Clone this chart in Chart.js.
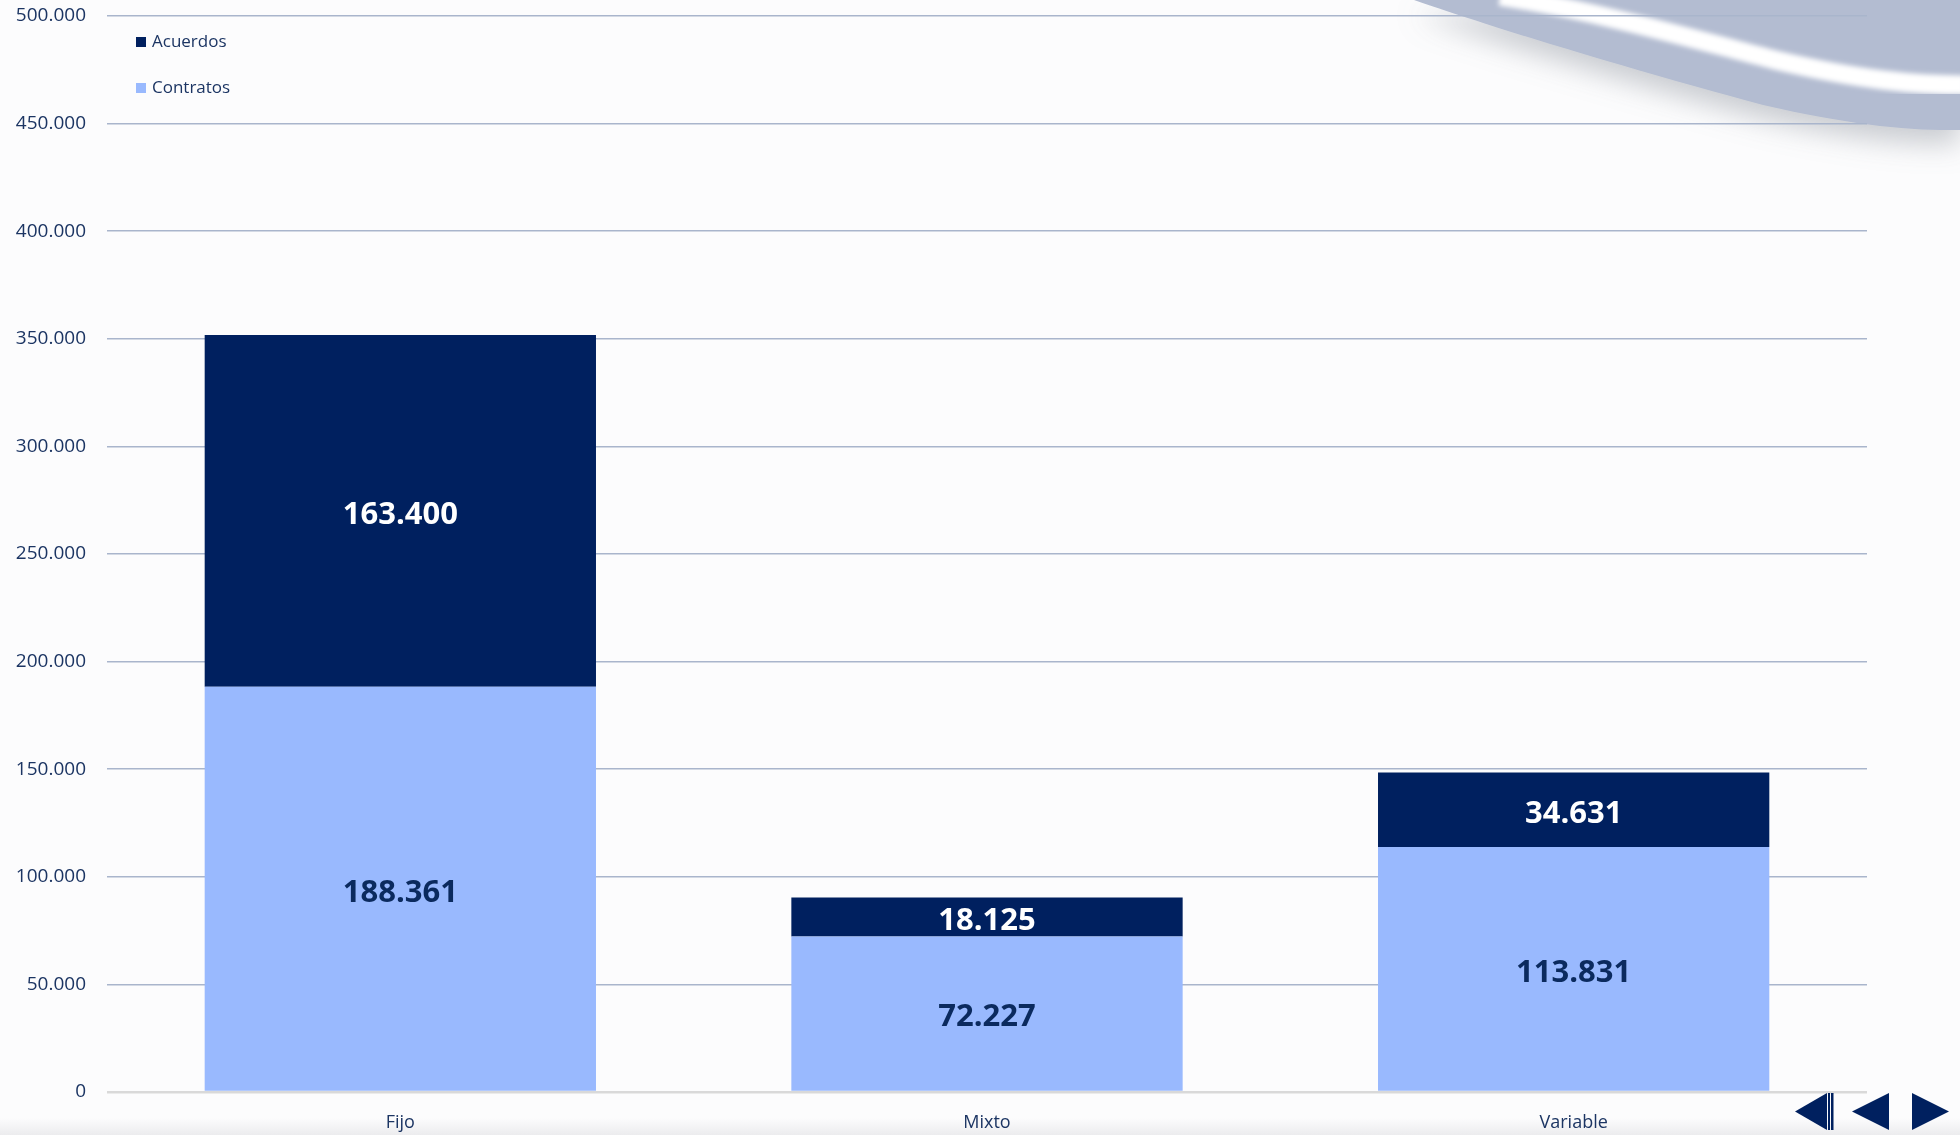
<!DOCTYPE html>
<html>
<head>
<meta charset="utf-8">
<script src="https://cdn.jsdelivr.net/npm/chart.js@4"></script>
<style>
  html, body { margin: 0; padding: 0; background: #fcfcfd; }
  #wrap { position: relative; width: 1960px; height: 1135px; overflow: hidden;
    background: linear-gradient(to bottom, #fcfcfd 0, #fcfcfd 1118px, #ececee 1135px); }
  #deco, #nav { position: absolute; left: 0; top: 0; }
  #chart { position: absolute; left: 0; top: 0; }
</style>
</head>
<body>
<div id="wrap">
  <svg id="deco" width="1960" height="1135">
    <defs>
      <filter id="shade" x="-20%" y="-50%" width="140%" height="250%">
        <feDropShadow dx="0" dy="14" stdDeviation="14" flood-color="#8a8f99" flood-opacity="0.45"/>
      </filter>
      <filter id="soft"><feGaussianBlur stdDeviation="2.5"/></filter>
    </defs>
    <path d="M1414,0 C1500,30 1650,75 1763,105 C1850,125 1910,131 1960,130 L1960,0 Z" fill="#b3bcd1" filter="url(#shade)"/>
    <path d="M1500,-4 C1600,12 1690,38 1775,60 C1860,80 1915,85 1965,85" fill="none" stroke="#ffffff" stroke-width="19" filter="url(#soft)"/>
  </svg>
  <canvas id="chart" width="1960" height="1135"></canvas>
  <svg id="nav" width="1960" height="1135">
    <polygon points="1827,1093 1827,1130 1795,1111.5" fill="#00205f"/>
    <rect x="1828" y="1093" width="2" height="37" fill="#00205f"/>
    <rect x="1831" y="1093" width="2.5" height="37" fill="#00205f"/>
    <polygon points="1889,1093 1889,1130 1852,1111.5" fill="#00205f"/>
    <polygon points="1912,1093 1912,1130 1949,1111.5" fill="#00205f"/>
  </svg>
</div>
<script>
  const categories = ['Fijo', 'Mixto', 'Variable'];
  const contratos = [188361, 72227, 113831];
  const acuerdos = [163400, 18125, 34631];
  const yTicks = [0, 50000, 100000, 150000, 200000, 250000, 300000, 350000, 400000, 450000, 500000];

  const navy = '#00205f';
  const lightBlue = '#99b9fe';
  const textColor = '#1c3563';

  function fmt(v) {
    return String(v).replace(/\B(?=(\d{3})+(?!\d))/g, '.');
  }

  const valueLabels = {
    id: 'valueLabels',
    afterDatasetsDraw(chart) {
      const ctx = chart.ctx;
      ctx.save();
      ctx.font = 'bold 31px "Open Sans"';
      ctx.textAlign = 'center';
      ctx.textBaseline = 'middle';
      chart.data.datasets.forEach((ds, i) => {
        chart.getDatasetMeta(i).data.forEach((bar, j) => {
          ctx.fillStyle = ds.labelColor;
          ctx.fillText(fmt(ds.data[j]), bar.x, (bar.y + bar.base) / 2 + 4);
        });
      });
      ctx.restore();
    }
  };

  const insideLegend = {
    id: 'insideLegend',
    afterDraw(chart) {
      const ctx = chart.ctx;
      const items = chart.data.datasets.slice().reverse();
      ctx.save();
      ctx.font = '17px "Open Sans"';
      ctx.textBaseline = 'middle';
      items.forEach((ds, i) => {
        const y = 42 + i * 46;
        ctx.fillStyle = ds.backgroundColor;
        ctx.fillRect(136, y - 5, 10, 10);
        ctx.fillStyle = textColor;
        ctx.fillText(ds.label, 152, y);
      });
      ctx.restore();
    }
  };

  new Chart(document.getElementById('chart'), {
    type: 'bar',
    data: {
      labels: categories,
      datasets: [
        { label: 'Contratos', data: contratos, backgroundColor: lightBlue, labelColor: '#0b2a5e',
          barPercentage: 0.667, categoryPercentage: 1 },
        { label: 'Acuerdos', data: acuerdos, backgroundColor: navy, labelColor: '#ffffff',
          barPercentage: 0.667, categoryPercentage: 1 }
      ]
    },
    options: {
      responsive: false,
      animation: false,
      layout: { padding: { top: 16, right: 93, bottom: 0, left: 0 } },
      plugins: { legend: { display: false }, tooltip: { enabled: false } },
      scales: {
        x: {
          stacked: true,
          grid: { display: false, drawTicks: false },
          border: { display: false },
          ticks: { color: textColor, font: { family: 'Open Sans', size: 18 }, padding: 20 },
          afterFit: (s) => { s.height = 43; }
        },
        y: {
          stacked: true,
          min: 0,
          max: 500000,
          afterBuildTicks: (s) => { s.ticks = yTicks.map(v => ({ value: v })); },
          grid: {
            drawTicks: true,
            tickLength: 21,
            tickColor: 'rgba(0,0,0,0)',
            color: (c) => c.tick && c.tick.value === 0 ? '#d9d9d9' : '#a9b5cc',
            lineWidth: (c) => c.tick && c.tick.value === 0 ? 2.5 : 1.5
          },
          border: { display: false },
          ticks: { color: textColor, font: { family: 'Open Sans', size: 19 }, padding: 0,
            callback: (v) => fmt(v) },
          afterFit: (s) => { s.width = 107; }
        }
      }
    },
    plugins: [valueLabels, insideLegend]
  });
</script>
</body>
</html>
